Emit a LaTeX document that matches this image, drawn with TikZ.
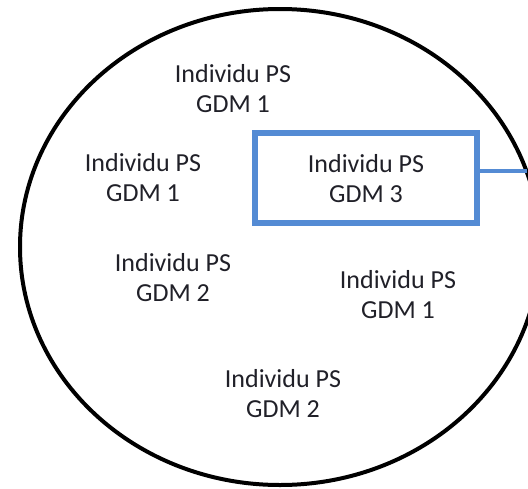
\documentclass[tikz,border=0pt]{standalone}
\usepackage{fontspec}
\setmainfont{Carlito}
\definecolor{boxblue}{RGB}{84,139,212}
\definecolor{txt}{RGB}{32,32,40}
\begin{document}
\begin{tikzpicture}[x=1pt,y=-1pt,
  lbl/.style={align=center,inner sep=0pt,text=txt,font=\fontsize{26}{30}\selectfont},
  gdmbox/.style={draw=boxblue,line width=6pt,minimum width=222pt,minimum height=90pt,inner sep=0pt},
  link/.style={draw=boxblue,line width=4pt}]
\useasboundingbox (0,0) rectangle (528,488);
\draw[line width=4pt] (280,247) ellipse [x radius=260, y radius=238];
\node[gdmbox] (box) at (366,178) {};
\node[lbl] (g3) at (366,179) {Individu PS\\GDM 3};
\node[lbl] (t1) at (233,89) {Individu PS\\GDM 1};
\node[lbl] (l1) at (143,178) {Individu PS\\GDM 1};
\node[lbl] (l2) at (173,278) {Individu PS\\GDM 2};
\node[lbl] (r1) at (398,295) {Individu PS\\GDM 1};
\node[lbl] (b2) at (283,394) {Individu PS\\GDM 2};
\coordinate (edge) at (527,171);
\draw[link] (box.east |- edge) -- (edge);
\end{tikzpicture}
\end{document}
